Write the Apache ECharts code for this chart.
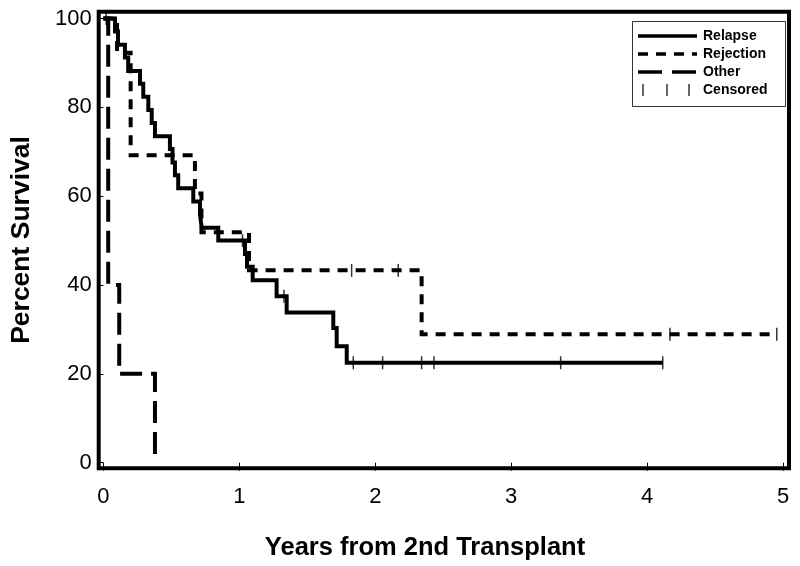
<!DOCTYPE html>
<html><head><meta charset="utf-8">
<script src="https://cdn.jsdelivr.net/npm/echarts@6/dist/echarts.min.js"></script>
<style>html,body{margin:0;padding:0;background:#fff}#c{width:800px;height:566px}</style>
</head><body><div id="c"></div>
<script>
// ---- data ----
const xTicks = [0, 1, 2, 3, 4, 5];
const yTicks = [0, 20, 40, 60, 80, 100];
const xTitle = 'Years from 2nd Transplant';
const yTitle = 'Percent Survival';
const seriesNames = ['Relapse', 'Rejection', 'Other', 'Censored'];

const relapseT = [0, 0.085, 0.107, 0.158, 0.182, 0.269, 0.293, 0.33, 0.355, 0.379, 0.489, 0.508, 0.526, 0.55, 0.661, 0.71, 0.723, 0.845, 1.041, 1.056, 1.098, 1.274, 1.348, 1.691, 1.716, 1.79, 4.115];
const relapseS = [100, 97.1, 94.1, 91.2, 88.2, 85.3, 82.4, 79.4, 76.5, 73.5, 70.6, 67.6, 64.7, 61.8, 58.8, 55.9, 52.9, 50.0, 47.0, 44.1, 41.1, 37.5, 33.8, 30.3, 26.2, 22.5, 22.5];
const relapseCensT = [0.02, 1.023, 1.328, 1.838, 2.054, 2.341, 2.432, 3.364, 4.115];
const relapseCensS = [100, 50.0, 37.5, 22.5, 22.5, 22.5, 22.5, 22.5, 22.5];

const rejectionT = [0, 0.10, 0.20, 0.673, 0.721, 1.071, 2.341, 4.954];
const rejectionS = [100, 92.3, 69.2, 60.6, 51.9, 43.3, 28.9, 28.9];
const rejectionCensT = [1.826, 2.169, 4.168, 4.954];
const rejectionCensS = [43.3, 43.3, 28.9, 28.9];

const otherT = [0, 0.035, 0.116, 0.379];
const otherS = [100, 40, 20, 0];

// ---- chart ----
const zip = (a, b) => a.map((v, i) => [v, b[i]]);
const chart = echarts.init(document.getElementById('c'), null, {renderer: 'canvas'});
const font = "'Liberation Sans', Arial, sans-serif";
const black = '#000';

const lineSeries = (name, t, s, type) => ({
  name, type: 'line', step: 'end', data: zip(t, s), showSymbol: false, symbol: 'none',
  lineStyle: {color: black, width: 4, type, cap: 'butt', join: 'miter'},
  z: 3, silent: true
});
const censSeries = (t, s) => ({
  name: seriesNames[3], type: 'scatter', data: zip(t, s), symbol: 'rect', symbolSize: [1.5, 13],
  itemStyle: {color: black}, z: 4, silent: true
});

// legend graphic
const lgX = 632, lgY = 21;
const legendRows = [
  {name: seriesNames[0], dash: null},
  {name: seriesNames[1], dash: [10, 8]},
  {name: seriesNames[2], dash: [24, 10]}
];
const graphics = [
  {type: 'rect', shape: {x: lgX + 0.5, y: lgY + 0.5, width: 153, height: 85}, style: {fill: '#fff', stroke: '#333', lineWidth: 1}, z: 10}
];
legendRows.forEach((r, i) => {
  const y = lgY + 15 + i * 18;
  graphics.push({type: 'line', shape: {x1: lgX + 6, y1: y, x2: lgX + 65, y2: y}, style: {stroke: black, lineWidth: 3.5, lineDash: r.dash}, z: 11});
  graphics.push({type: 'text', x: lgX + 71, y: y, style: {text: r.name, font: 'bold 14px ' + font, fill: black, verticalAlign: 'middle'}, z: 11});
});
{
  const y = lgY + 15 + 3 * 18;
  [11, 35, 57].forEach(dx => graphics.push({type: 'line', shape: {x1: lgX + dx, y1: y - 6, x2: lgX + dx, y2: y + 6}, style: {stroke: black, lineWidth: 1.2}, z: 11}));
  graphics.push({type: 'text', x: lgX + 71, y: y, style: {text: seriesNames[3], font: 'bold 14px ' + font, fill: black, verticalAlign: 'middle'}, z: 11});
}
// axis titles
graphics.push({type: 'text', x: 425, y: 548, style: {text: xTitle, font: 'bold 25.5px ' + font, fill: black, align: 'center', verticalAlign: 'middle'}});
graphics.push({type: 'text', x: 22, y: 240, rotation: Math.PI / 2, style: {text: yTitle, font: 'bold 26.5px ' + font, fill: black, align: 'center', verticalAlign: 'middle'}});

chart.setOption({
  animation: false,
  backgroundColor: '#fff',
  grid: {left: 98.7, top: 11.7, right: 11, bottom: 97.7, show: true, borderColor: black, borderWidth: 4, backgroundColor: 'transparent'},
  xAxis: {
    type: 'value', min: -0.035, max: 5.044,
    axisLine: {show: false},
    axisTick: {show: true, customValues: xTicks, length: 8, inside: false, lineStyle: {color: black, width: 1}},
    axisLabel: {customValues: xTicks, margin: 18, fontSize: 22, color: black, fontFamily: font},
    splitLine: {show: false}
  },
  yAxis: {
    type: 'value', min: -1.26, max: 101.53,
    axisLine: {show: false},
    axisTick: {show: true, customValues: yTicks, length: 6, lineStyle: {color: black, width: 1}},
    axisLabel: {customValues: yTicks, margin: 7, fontSize: 22, color: black, fontFamily: font},
    splitLine: {show: false}
  },
  series: [
    lineSeries(seriesNames[0], relapseT, relapseS, 'solid'),
    lineSeries(seriesNames[1], rejectionT, rejectionS, [10, 8]),
    lineSeries(seriesNames[2], otherT, otherS, [22, 9]),
    censSeries(relapseCensT, relapseCensS),
    censSeries(rejectionCensT, rejectionCensS)
  ],
  graphic: graphics
});
</script></body></html>
